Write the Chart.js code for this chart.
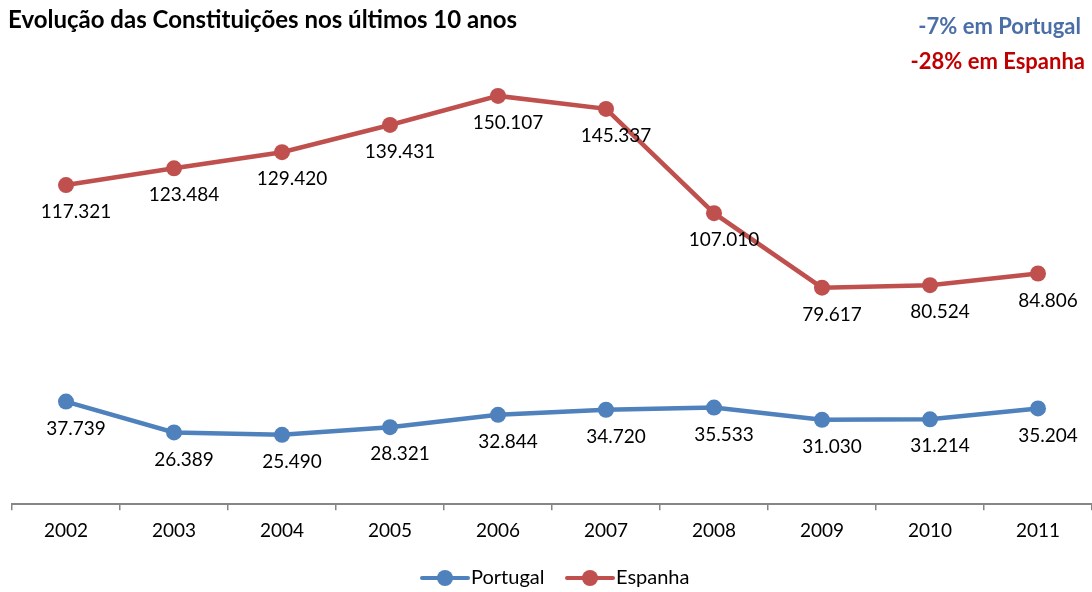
<!DOCTYPE html>
<html>
<head>
<meta charset="utf-8">
<script src="https://cdn.jsdelivr.net/npm/chart.js@4"></script>
<style>
html,body{margin:0;padding:0;background:#fff;overflow:hidden;width:1092px;height:592px;}
#wrap{position:absolute;left:0;top:0;width:1100px;height:592px;}
</style>
</head>
<body>
<div id="wrap"><canvas id="c" width="1100" height="592"></canvas></div>
<script>
const years = ['2002','2003','2004','2005','2006','2007','2008','2009','2010','2011'];
const portugal = [37739, 26389, 25490, 28321, 32844, 34720, 35533, 31030, 31214, 35204];
const espanha = [117321, 123484, 129420, 139431, 150107, 145337, 107010, 79617, 80524, 84806];
const titleText = 'Evolução das Constituições nos últimos 10 anos';
const noteTexts = ['-7% em Portugal', '-28% em Espanha'];
const seriesNames = ['Portugal', 'Espanha'];

const FONT = 'Lato, "Open Sans", sans-serif';
const BLUE = '#4F81BD', RED = '#C0504D';

function fmt(v){ return String(v).replace(/\B(?=(\d{3})+(?!\d))/g, '.'); }

const overlay = {
  id: 'overlay',
  afterDatasetsDraw(chart){
    const ctx = chart.ctx;
    ctx.save();
    // data labels
    ctx.font = '19px ' + FONT;
    ctx.fillStyle = '#000';
    ctx.textAlign = 'center';
    ctx.textBaseline = 'middle';
    chart.data.datasets.forEach((ds, i) => {
      const meta = chart.getDatasetMeta(i);
      meta.data.forEach((pt, j) => {
        ctx.fillText(fmt(ds.data[j]), pt.x + 10, pt.y + 27);
      });
    });
    // title
    ctx.font = 'bold 24px ' + FONT;
    ctx.textAlign = 'left';
    ctx.textBaseline = 'alphabetic';
    ctx.fillText(titleText, 8, 28);
    // notes
    ctx.textAlign = 'right';
    ctx.font = 'bold 22px ' + FONT;
    ctx.fillStyle = '#4A6EA6';
    ctx.fillText(noteTexts[0], 1081, 34);
    ctx.fillStyle = '#C00000';
    ctx.fillText(noteTexts[1], 1085, 69);
    // legend
    const items = [{x: 422, c: BLUE, t: seriesNames[0]}, {x: 567, c: RED, t: seriesNames[1]}];
    const ly = 578;
    ctx.textAlign = 'left';
    ctx.textBaseline = 'middle';
    ctx.font = '20px ' + FONT;
    items.forEach(it => {
      ctx.strokeStyle = it.c;
      ctx.lineWidth = 4;
      ctx.lineCap = 'round';
      ctx.beginPath(); ctx.moveTo(it.x, ly); ctx.lineTo(it.x + 46, ly); ctx.stroke();
      ctx.fillStyle = it.c;
      ctx.beginPath(); ctx.arc(it.x + 23, ly, 8, 0, Math.PI * 2); ctx.fill();
      ctx.fillStyle = '#000';
      ctx.fillText(it.t, it.x + 49, ly);
    });
    ctx.restore();
  }
};

new Chart(document.getElementById('c'), {
  type: 'line',
  data: {
    labels: years,
    datasets: [
      {label: seriesNames[0], data: portugal, borderColor: BLUE, backgroundColor: BLUE,
       borderWidth: 4.5, pointRadius: 8, pointBackgroundColor: BLUE, pointBorderWidth: 0, tension: 0},
      {label: seriesNames[1], data: espanha, borderColor: RED, backgroundColor: RED,
       borderWidth: 4.5, pointRadius: 8, pointBackgroundColor: RED, pointBorderWidth: 0, tension: 0}
    ]
  },
  options: {
    responsive: false,
    animation: false,
    layout: {padding: {left: 12, right: 4, top: 69, bottom: 41}},
    plugins: {legend: {display: false}, title: {display: false}, tooltip: {enabled: false}},
    scales: {
      x: {
        offset: true,
        grid: {display: true, offset: true, drawOnChartArea: false, drawTicks: true, tickLength: 6, color: '#868686', lineWidth: 1.5},
        border: {display: true, color: '#868686', width: 2},
        ticks: {color: '#000', font: {family: FONT, size: 19}, padding: 9, maxRotation: 0, autoSkip: false}
      },
      y: {display: false, min: 0, max: 160000}
    }
  },
  plugins: [overlay]
});
</script>
</body>
</html>
